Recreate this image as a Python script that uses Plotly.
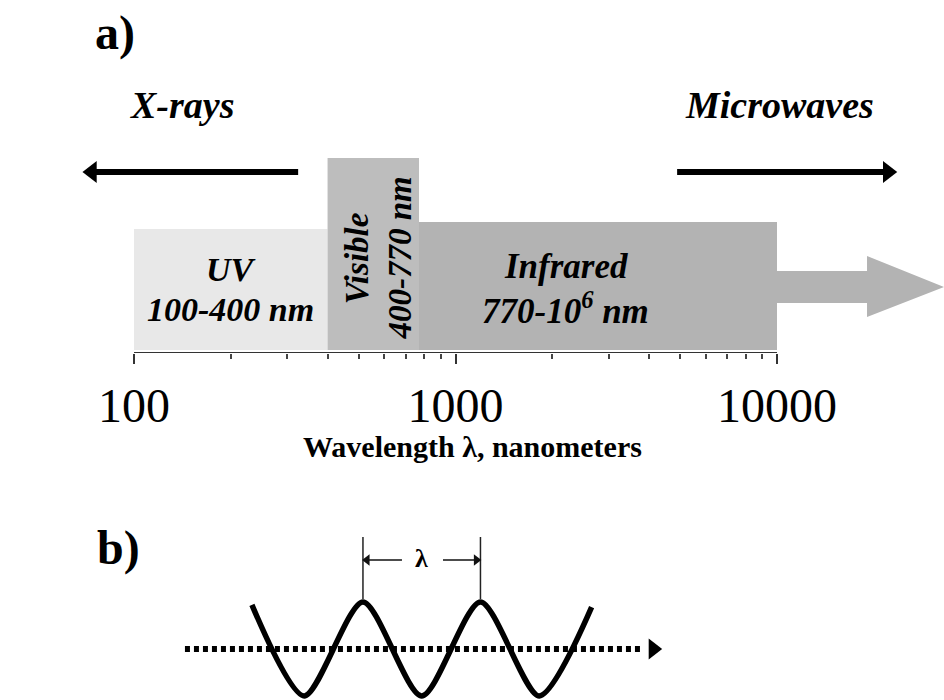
import numpy as np
import plotly.graph_objects as go

# ---------------- data ----------------
band_names = ["UV", "Visible", "Infrared"]
band_start_nm = [100, 400, 770]
band_end_nm = [400, 770, 1e6]
band_range_text = ["100-400 nm", "400-770 nm", "770-10<sup>6</sup> nm"]
axis_min_nm = 100
axis_max_nm = 10000
major_ticks = [100, 1000, 10000]
major_tick_labels = ["100", "1000", "10000"]
minor_ticks = [200, 300, 400, 500, 600, 700, 800, 900,
               2000, 3000, 4000, 5000, 6000, 7000, 8000, 9000]
side_labels = ["X-rays", "Microwaves"]
side_label_nm = [141, 10200]
# arrows toward shorter / longer wavelengths (tail, head) in nm
xray_arrow_nm = [324, 74]
micro_arrow_nm = [4890, 22100]

# panel b: wave in units of wavelength (x) and amplitude (y)
wave_x = [-0.945, -0.5, 0.0, 0.5, 1.0, 1.5, 1.946]
wave_y = [0.94, -1.0, 1.0, -1.0, 1.0, -1.0, 0.89]
prop_axis_x = [-1.515, 2.383]   # dotted propagation line
prop_tip_x = 2.47
lambda_arrow_tails = [0.332, 0.681]

# ---------------- styling / layout constants ----------------
W, H = 944, 700
SERIF = "Liberation Serif"
band_colors = ["#e8e8e8", "#bdbdbd", "#b3b3b3"]
band_heights = [124, 195, 131]   # px above axis line
band_gap = 3
X_RANGE = [1.5832, 4.5194]       # log10 nm across full width
Y_DOM_A = [347 / H, 1.0]
Y_RANGE_A = [0, 353]
X2_RANGE = [-3.089, 4.945]
Y_DOM_B = [0.0, 0.3]
Y2_RANGE = [-1.085, 3.383]

fig = go.Figure()

def line_trace(x, y, ax="x", ay="y", **kw):
    fig.add_trace(go.Scatter(x=x, y=y, hoverinfo="skip", showlegend=False,
                             xaxis=ax, yaxis=ay, **kw))

# spectrum bands
for name, s, e, col, h in zip(band_names, band_start_nm, band_end_nm, band_colors, band_heights):
    e_draw = min(e, axis_max_nm)
    line_trace([s, e_draw, e_draw, s, s], [band_gap, band_gap, h, h, band_gap],
               mode="lines", fill="toself", fillcolor=col, line=dict(width=0))

# big grey arrow continuing infrared beyond the axis
ir_end = min(band_end_nm[2], axis_max_nm)
shaft_end = ir_end * 10 ** 0.28
tip = ir_end * 10 ** 0.52
line_trace([ir_end, shaft_end, shaft_end, tip, shaft_end, shaft_end, ir_end, ir_end],
           [50, 50, 36, 66, 97, 82, 82, 50],
           mode="lines", fill="toself", fillcolor=band_colors[2], line=dict(width=0))

# axis line
line_trace([axis_min_nm, axis_max_nm], [0, 0], mode="lines",
           line=dict(color="#333333", width=2))

# black arrows for X-rays / Microwaves
for (tail, head), sym in [(xray_arrow_nm, "triangle-left"), (micro_arrow_nm, "triangle-right")]:
    line_trace([tail, head], [181, 181], mode="lines", line=dict(color="black", width=6))
    line_trace([head], [181], mode="markers", cliponaxis=False,
               marker=dict(symbol=sym, size=19, color="black", line=dict(width=0)))

# wave
line_trace(wave_x, wave_y, "x2", "y2", mode="lines",
           line=dict(color="black", width=5.5, shape="spline", smoothing=0.75))

# dotted propagation line + head
line_trace(prop_axis_x, [0, 0], "x2", "y2", mode="lines",
           line=dict(color="black", width=6, dash="5px,4px"))
line_trace([prop_tip_x], [0], "x2", "y2", mode="markers", cliponaxis=False,
           marker=dict(symbol="triangle-right", size=18, color="black", line=dict(width=0)))

# lambda marker verticals at the two peaks
peaks = [wave_x[2], wave_x[4]]
for px in peaks:
    line_trace([px, px], [1.064, 2.383], "x2", "y2", mode="lines",
               line=dict(color="#222222", width=1.5))
# lambda arrows pointing to the peak markers
for tail, head, sym, off in [(lambda_arrow_tails[0], peaks[0], "triangle-left", 0.035),
                             (lambda_arrow_tails[1], peaks[1], "triangle-right", -0.035)]:
    line_trace([tail, head + off], [1.894, 1.894], "x2", "y2", mode="lines",
               line=dict(color="#111111", width=1.5))
    line_trace([head + off], [1.894], "x2", "y2", mode="markers", cliponaxis=False,
               marker=dict(symbol=sym, size=10, color="#111111", line=dict(width=0)))

ann = []
txt_font = dict(family=SERIF, color="black")

def A(**kw):
    d = dict(showarrow=False, xanchor="center", yanchor="middle")
    d.update(kw)
    ann.append(d)

# panel labels
A(text="<b>a)</b>", xref="paper", yref="paper", x=115 / W, y=1 - 33 / H,
  font=dict(txt_font, size=48))
A(text="<b>b)</b>", xref="paper", yref="paper", x=118 / W, y=1 - 548 / H,
  font=dict(txt_font, size=48))

# X-rays / Microwaves
for lab, pos in zip(side_labels, side_label_nm):
    A(text="<b><i>" + lab + "</i></b>", xref="x", yref="y", x=np.log10(pos), y=248,
      font=dict(txt_font, size=38))

# band labels
A(text="<b><i>" + band_names[0] + "</i></b>", xref="x", yref="y",
  x=np.log10(200), y=84, font=dict(txt_font, size=34))
A(text="<b><i>" + band_range_text[0] + "</i></b>", xref="x", yref="y",
  x=np.log10(200), y=44, font=dict(txt_font, size=34))
A(text="<b><i>" + band_names[1] + "</i></b>", xref="x", yref="y",
  x=np.log10(495), y=95, textangle=-90, font=dict(txt_font, size=33))
A(text="<b><i>" + band_range_text[1] + "</i></b>", xref="x", yref="y",
  x=np.log10(670), y=95, textangle=-90, font=dict(txt_font, size=33))
A(text="<b><i>" + band_names[2] + "</i></b>", xref="x", yref="y",
  x=np.log10(2200), y=87, font=dict(txt_font, size=35))
A(text="<b><i>" + band_range_text[2] + "</i></b>", xref="x", yref="y",
  x=np.log10(2200), y=45, font=dict(txt_font, size=35))

# axis title
A(text="<b>Wavelength λ, nanometers</b>", xref="paper", yref="paper", x=0.5, y=1 - 446 / H,
  font=dict(txt_font, size=30))

# lambda symbol
A(text="<b>λ</b>", xref="x2", yref="y2", x=0.502, y=1.93, font=dict(txt_font, size=26))

fig.update_layout(
    width=W, height=H, margin=dict(l=0, r=0, t=0, b=0),
    paper_bgcolor="white", plot_bgcolor="rgba(0,0,0,0)",
    showlegend=False, annotations=ann,
    xaxis=dict(type="log", range=X_RANGE, domain=[0, 1], anchor="y",
               showline=False, showgrid=False, zeroline=False,
               ticks="outside", ticklen=10, tickwidth=2, tickcolor="#333333",
               tickmode="array", tickvals=major_ticks, ticktext=major_tick_labels,
               tickfont=dict(family=SERIF, size=48, color="black"),
               ticklabelstandoff=0,
               minor=dict(tickmode="array", tickvals=minor_ticks, ticks="outside",
                          ticklen=5, tickwidth=1.5, tickcolor="#444444", showgrid=False)),
    yaxis=dict(domain=Y_DOM_A, range=Y_RANGE_A, visible=False, anchor="x"),
    xaxis2=dict(domain=[0, 1], range=X2_RANGE, visible=False, anchor="y2"),
    yaxis2=dict(domain=Y_DOM_B, range=Y2_RANGE, visible=False, anchor="x2"),
)

fig.write_html("out.html", config={"displayModeBar": False},
               post_script="document.body.style.margin='0';")
